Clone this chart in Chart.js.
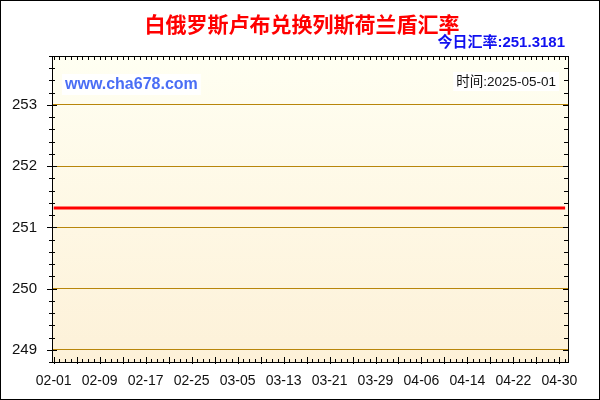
<!DOCTYPE html>
<html><head><meta charset="utf-8">
<script src="https://cdn.jsdelivr.net/npm/chart.js@4/dist/chart.umd.min.js"></script>
<style>html,body{margin:0;padding:0;background:#fff;}#wrap{width:600px;height:400px;position:relative;}</style>
</head><body><div id="wrap"><canvas id="c" width="600" height="400"></canvas></div>
<script>
const dates = [
'02-01','02-02','02-03','02-04','02-05','02-06','02-07','02-08','02-09','02-10','02-11','02-12','02-13','02-14','02-15','02-16','02-17','02-18','02-19','02-20','02-21','02-22','02-23','02-24','02-25','02-26','02-27','02-28',
'03-01','03-02','03-03','03-04','03-05','03-06','03-07','03-08','03-09','03-10','03-11','03-12','03-13','03-14','03-15','03-16','03-17','03-18','03-19','03-20','03-21','03-22','03-23','03-24','03-25','03-26','03-27','03-28','03-29','03-30','03-31',
'04-01','04-02','04-03','04-04','04-05','04-06','04-07','04-08','04-09','04-10','04-11','04-12','04-13','04-14','04-15','04-16','04-17','04-18','04-19','04-20','04-21','04-22','04-23','04-24','04-25','04-26','04-27','04-28','04-29','04-30',
'05-01'];
const rates = [
251.3181,251.3181,251.3181,251.3181,251.3181,251.3181,251.3181,251.3181,251.3181,251.3181,251.3181,251.3181,251.3181,251.3181,251.3181,251.3181,251.3181,251.3181,251.3181,251.3181,251.3181,251.3181,251.3181,251.3181,251.3181,251.3181,251.3181,251.3181,
251.3181,251.3181,251.3181,251.3181,251.3181,251.3181,251.3181,251.3181,251.3181,251.3181,251.3181,251.3181,251.3181,251.3181,251.3181,251.3181,251.3181,251.3181,251.3181,251.3181,251.3181,251.3181,251.3181,251.3181,251.3181,251.3181,251.3181,251.3181,251.3181,251.3181,251.3181,
251.3181,251.3181,251.3181,251.3181,251.3181,251.3181,251.3181,251.3181,251.3181,251.3181,251.3181,251.3181,251.3181,251.3181,251.3181,251.3181,251.3181,251.3181,251.3181,251.3181,251.3181,251.3181,251.3181,251.3181,251.3181,251.3181,251.3181,251.3181,251.3181,251.3181,
251.3181];
const xTickLabels = ['02-01','02-09','02-17','02-25','03-05','03-13','03-21','03-29','04-06','04-14','04-22','04-30'];
const yTickLabels = [249,250,251,252,253];
const titleText = '白俄罗斯卢布兑换列斯荷兰盾汇率';
const todayText = '今日汇率:251.3181';
const siteText = 'www.cha678.com';
const timeText = '时间:2025-05-01';

const Y_MIN = 248.8, Y_MAX = 253.8, Y_MINOR = 0.2;
const isInt = v => yTickLabels.some(t => Math.abs(t - v) < 1e-6);

const deco = {
  id: 'deco',
  beforeDraw(chart) {
    const {ctx, chartArea: a} = chart;
    ctx.save();
    ctx.fillStyle = '#fff';
    ctx.fillRect(0, 0, chart.width, chart.height);
    const g = ctx.createLinearGradient(0, a.top, 0, a.bottom);
    g.addColorStop(0, '#fffff2');
    g.addColorStop(1, '#fdf1d8');
    ctx.fillStyle = g;
    ctx.fillRect(a.left, a.top, a.right - a.left, a.bottom - a.top);
    ctx.restore();
  },
  afterDraw(chart) {
    const {ctx, chartArea: a} = chart;
    const xs = chart.scales.x, ys = chart.scales.y;
    ctx.save();
    ctx.strokeStyle = '#000';
    ctx.lineWidth = 1;
    ctx.strokeRect(Math.round(a.left) + 0.5, Math.round(a.top) + 0.5, Math.round(a.right - a.left), Math.round(a.bottom - a.top));
    ctx.beginPath();
    xs.ticks.forEach(t => {
      const px = Math.round(xs.getPixelForValue(t.value)) + 0.5;
      const tall = Math.round(t.value) % 4 === 0;
      ctx.moveTo(px, a.bottom - (tall ? 5 : 3));
      ctx.lineTo(px, a.bottom + (tall ? 2 : 1));
      ctx.moveTo(px, a.top);
      ctx.lineTo(px, a.top + 4);
    });
    ys.ticks.forEach(t => {
      const py = Math.round(ys.getPixelForValue(t.value)) + 0.5;
      const big = isInt(t.value);
      ctx.moveTo(a.left - (big ? 5 : 3), py);
      ctx.lineTo(a.left + (big ? 5 : 3), py);
      ctx.moveTo(a.right - (big ? 5 : 4), py);
      ctx.lineTo(a.right, py);
    });
    ctx.stroke();
    ctx.textBaseline = 'middle';
    ctx.textAlign = 'center';
    ctx.fillStyle = '#ff0000';
    ctx.font = 'bold 21px "Noto Sans CJK SC"';
    ctx.fillText(titleText, 302, 24);
    ctx.textAlign = 'right';
    ctx.fillStyle = '#1010f0';
    ctx.font = 'bold 15px "Liberation Sans", "Noto Sans CJK SC"';
    ctx.fillText(todayText, 565, 43);
    ctx.font = 'bold 16px "Liberation Sans"';
    ctx.textAlign = 'left';
    const sw = ctx.measureText(siteText).width;
    ctx.fillStyle = '#fff';
    ctx.fillRect(62, 74, sw + 6, 21);
    ctx.fillStyle = '#4a6ef5';
    ctx.fillText(siteText, 65, 84.5);
    ctx.font = '13.5px "Liberation Sans", "Noto Sans CJK SC"';
    ctx.textAlign = 'right';
    const tw = ctx.measureText(timeText).width;
    ctx.fillStyle = '#fff';
    ctx.fillRect(556 - tw - 3, 72, tw + 6, 19);
    ctx.fillStyle = '#111';
    ctx.fillText(timeText, 556, 82);
    ctx.strokeStyle = '#000';
    ctx.lineWidth = 2;
    ctx.strokeRect(0, 0, chart.width, chart.height);
    ctx.restore();
  }
};

new Chart(document.getElementById('c'), {
  type: 'line',
  data: {
    datasets: [{
      data: rates.map((v, i) => ({x: i, y: v})),
      borderColor: '#ff0000',
      borderWidth: 3,
      pointRadius: 0,
      tension: 0,
      fill: false
    }]
  },
  options: {
    responsive: false,
    animation: false,
    devicePixelRatio: 1,
    layout: {padding: {top: 56, right: 32, left: 0, bottom: 0}},
    plugins: {legend: {display: false}, tooltip: {enabled: false}, title: {display: false}},
    scales: {
      x: {
        type: 'linear',
        min: -0.3,
        max: 89.5,
        afterFit: s => { s.height = 38; },
        afterBuildTicks: s => { s.ticks = dates.map((d, i) => ({value: i})); },
        ticks: {
          autoSkip: false,
          maxRotation: 0,
          padding: 11,
          color: '#111',
          font: {family: '"Liberation Sans"', size: 14},
          callback: v => (xTickLabels.includes(dates[v]) ? dates[v] : '')
        },
        grid: {drawOnChartArea: false, drawTicks: false},
        border: {display: false}
      },
      y: {
        type: 'linear',
        min: Y_MIN,
        max: Y_MAX,
        afterFit: s => { s.width = 52; },
        afterBuildTicks: s => {
          const t = [];
          const n = Math.round((Y_MAX - Y_MIN) / Y_MINOR);
          for (let k = 0; k <= n; k++) t.push({value: Math.round((Y_MIN + k * Y_MINOR) * 10) / 10});
          s.ticks = t;
        },
        ticks: {
          autoSkip: false,
          padding: 15,
          color: '#111',
          font: {family: '"Liberation Sans"', size: 15},
          callback: v => (isInt(v) ? String(Math.round(v)) : '')
        },
        grid: {
          drawTicks: false,
          color: c => (c.tick && isInt(c.tick.value) ? '#b8860b' : 'rgba(0,0,0,0)'),
          lineWidth: 1
        },
        border: {display: false}
      }
    }
  },
  plugins: [deco]
});
</script>
</body></html>
